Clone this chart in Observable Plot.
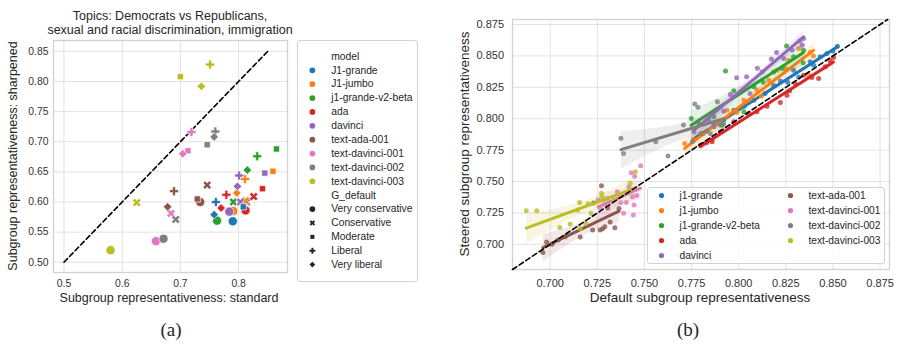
<!DOCTYPE html>
<html><head><meta charset="utf-8">
<script src="https://cdn.jsdelivr.net/npm/d3@7"></script>
<script src="https://cdn.jsdelivr.net/npm/@observablehq/plot@0.6"></script>
<style>
body{margin:0;background:#fff;}
#root{position:relative;width:905px;height:353px;font-family:"Liberation Sans",Arial,sans-serif;color:#262626;overflow:hidden;background:#fff}
.abs{position:absolute;white-space:nowrap}
.c{transform:translate(-50%,-50%)}
.r{transform:translate(-50%,-50%) rotate(-90deg)}
.box{position:absolute;border:1px solid #d2d2d2;border-radius:3px;box-sizing:border-box}
.box svg{display:block}
</style></head>
<body><div id="root"></div>
<script>
// ---------- shared ----------
const palette = ["#1f77b4","#ff7f0e","#2ca02c","#d62728","#9467bd","#8c564b","#e377c2","#7f7f7f","#bcbd22"];

// ---------- panel (a) data ----------
const modelsA = ["J1-grande","J1-jumbo","j1-grande-v2-beta","ada","davinci","text-ada-001","text-davinci-001","text-davinci-002","text-davinci-003"];
const ideologies = ["Very conservative","Conservative","Moderate","Liberal","Very liberal"];
// rows: models, columns: ideologies
const standardA = [
 [0.790, 0.814, 0.808, 0.761, 0.758],
 [0.791, 0.812, 0.859, 0.811, 0.797],
 [0.763, 0.791, 0.865, 0.832, 0.815],
 [0.812, 0.826, 0.841, 0.779, 0.770],
 [0.784, 0.803, 0.845, 0.801, 0.798],
 [0.734, 0.746, 0.729, 0.689, 0.678],
 [0.658, 0.684, 0.713, 0.719, 0.704],
 [0.671, 0.692, 0.746, 0.760, 0.758],
 [0.580, 0.625, 0.700, 0.751, 0.736]];
const sharpenedA = [
 [0.568, 0.600, 0.592, 0.600, 0.579],
 [0.585, 0.602, 0.651, 0.638, 0.615],
 [0.569, 0.600, 0.688, 0.676, 0.653],
 [0.586, 0.609, 0.622, 0.612, 0.590],
 [0.584, 0.600, 0.648, 0.644, 0.626],
 [0.600, 0.628, 0.605, 0.618, 0.592],
 [0.535, 0.581, 0.685, 0.716, 0.680],
 [0.539, 0.571, 0.695, 0.717, 0.708],
 [0.520, 0.599, 0.808, 0.828, 0.792]];
const xTicksA = [0.5, 0.6, 0.7, 0.8];
const yTicksA = [0.50, 0.55, 0.60, 0.65, 0.70, 0.75, 0.80, 0.85];
const diagA = [0.5, 0.85];

// ---------- panel (b) data: [default, steered] ----------
const modelsB = ["j1-grande","j1-jumbo","j1-grande-v2-beta","ada","davinci","text-ada-001","text-davinci-001","text-davinci-002","text-davinci-003"];
const bJ1Grande = [[0.7762,0.7830],[0.7810,0.7880],[0.7868,0.7936],[0.7920,0.7990],[0.7974,0.8068],[0.8030,0.8100],[0.8080,0.8148],[0.8140,0.8200],[0.8185,0.8267],[0.8221,0.8300],[0.8260,0.8290],[0.8291,0.8386],[0.8318,0.8333],[0.8379,0.8453],[0.8397,0.8426],[0.8432,0.8493],[0.8468,0.8519],[0.8500,0.8540],[0.8524,0.8577]];
const bJ1Jumbo = [[0.7713,0.7803],[0.7762,0.7835],[0.7800,0.7880],[0.7859,0.7830],[0.7903,0.7896],[0.7938,0.8068],[0.7990,0.8050],[0.8027,0.8148],[0.8097,0.8227],[0.8120,0.8180],[0.8159,0.8307],[0.8203,0.8386],[0.8250,0.8400],[0.8265,0.8466],[0.8318,0.8559],[0.8370,0.8350],[0.8380,0.8530],[0.8397,0.8500]];
const bJ1V2 = [[0.7748,0.8002],[0.7790,0.7960],[0.7868,0.8015],[0.7912,0.7949],[0.7930,0.8381],[0.7974,0.8222],[0.8027,0.8055],[0.8080,0.8254],[0.8130,0.8290],[0.8185,0.8373],[0.8230,0.8400],[0.8254,0.8580],[0.8291,0.8493],[0.8342,0.8446],[0.8344,0.8546]];
const bAda = [[0.7797,0.7790],[0.7830,0.7810],[0.7859,0.7817],[0.7910,0.7900],[0.7974,0.7976],[0.8053,0.8042],[0.8097,0.8055],[0.8150,0.8100],[0.8221,0.8129],[0.8256,0.8188],[0.8270,0.8222],[0.8300,0.8280],[0.8344,0.8347],[0.8388,0.8328],[0.8424,0.8320],[0.8459,0.8413],[0.8485,0.8461],[0.8503,0.8487]];
const bDavinci = [[0.7762,0.7896],[0.7841,0.7989],[0.7868,0.7949],[0.7920,0.8060],[0.7956,0.8193],[0.7989,0.8326],[0.8042,0.8334],[0.8060,0.8200],[0.8099,0.8401],[0.8124,0.8373],[0.8174,0.8475],[0.8201,0.8528],[0.8238,0.8479],[0.8284,0.8547],[0.8323,0.8618],[0.8337,0.8586],[0.8344,0.8638]];
const bTextAda001 = [[0.6961,0.6936],[0.6981,0.7018],[0.7010,0.7000],[0.7042,0.7034],[0.7080,0.7060],[0.7159,0.7058],[0.7225,0.7114],[0.7230,0.7330],[0.7265,0.7114],[0.7272,0.7466],[0.7278,0.7124],[0.7290,0.7140],[0.7305,0.7290],[0.7318,0.7178],[0.7343,0.7132],[0.7365,0.7285]];
const bTextDav001 = [[0.7254,0.7353],[0.7265,0.7290],[0.7290,0.7320],[0.7303,0.7366],[0.7356,0.7419],[0.7375,0.7331],[0.7389,0.7247],[0.7404,0.7334],[0.7418,0.7459],[0.7430,0.7570],[0.7436,0.7379],[0.7441,0.7233],[0.7445,0.7313],[0.7448,0.7543],[0.7459,0.7390],[0.7480,0.7626]];
const bTextDav002 = [[0.7375,0.7844],[0.7389,0.7724],[0.7560,0.7817],[0.7625,0.7703],[0.7707,0.7950],[0.7754,0.7817],[0.7767,0.8117],[0.7784,0.8091],[0.7800,0.7880],[0.7830,0.7900],[0.7850,0.7880],[0.7887,0.8135],[0.7900,0.7950],[0.7920,0.7960]];
const bTextDav003 = [[0.6873,0.7268],[0.6929,0.7268],[0.7051,0.7135],[0.7106,0.7162],[0.7145,0.7273],[0.7156,0.7334],[0.7159,0.7127],[0.7189,0.7167],[0.7201,0.7323],[0.7216,0.7247],[0.7272,0.7406],[0.7275,0.7379],[0.7282,0.7358],[0.7339,0.7353],[0.7424,0.7486],[0.7452,0.7578]];
const ticksB = [0.700, 0.725, 0.750, 0.775, 0.800, 0.825, 0.850, 0.875];
const diagB = [0.680, 0.879];

// ---------- build ----------
const root = document.getElementById("root");
function addText(txt, cls, left, top, size, extra) {
  const d = document.createElement("div");
  d.className = "abs " + cls;
  d.textContent = txt;
  d.style.left = left + "px"; d.style.top = top + "px"; d.style.fontSize = size + "px";
  if (extra) Object.assign(d.style, extra);
  root.appendChild(d);
}
function place(el, left, top) {
  el.style.position = "absolute"; el.style.left = left + "px"; el.style.top = top + "px";
  root.appendChild(el);
}

// filled "X" marker
const symX = {draw(ctx, size) {
  const r = Math.sqrt(size / 5) / 2, c = Math.SQRT1_2;
  const pts = [[-3,-1],[-1,-1],[-1,-3],[1,-3],[1,-1],[3,-1],[3,1],[1,1],[1,3],[-1,3],[-1,1],[-3,1]];
  pts.forEach(([a,b],i) => { const x = (a - b) * c * r, y = (a + b) * c * r; i ? ctx.lineTo(x, y) : ctx.moveTo(x, y); });
  ctx.closePath();
}};
const symFor = {"Very conservative": "circle", "Conservative": symX, "Moderate": "square", "Liberal": "cross", "Very liberal": "diamond2"};
const rFor = {"Very conservative": 4.6, "Conservative": 3.8, "Moderate": 3.5, "Liberal": 3.8, "Very liberal": 3.9};
const rLegFor = {"Very conservative": 2.9, "Conservative": 2.5, "Moderate": 2.3, "Liberal": 2.5, "Very liberal": 2.6};

const pointsA = [];
modelsA.forEach((m, i) => ideologies.forEach((g, j) => pointsA.push({model: m, ideology: g, standard: standardA[i][j], sharpened: sharpenedA[i][j]})));

const gridColor = "#e2e2e2", frameColor = "#d2d2d2";

const plotA = Plot.plot({
  width: 295, height: 310, marginLeft: 53, marginRight: 8, marginTop: 40, marginBottom: 38,
  x: {domain: [0.482, 0.884], ticks: xTicksA, tickFormat: d3.format(".1f"), tickSize: 0, tickPadding: 7, label: null},
  y: {domain: [0.483, 0.868], ticks: yTicksA, tickFormat: d3.format(".2f"), tickSize: 0, tickPadding: 5, label: null},
  color: {domain: modelsA, range: palette},
  style: {fontFamily: '"Liberation Sans", Arial, sans-serif', fontSize: "10.4px", color: "#333", background: "transparent", overflow: "visible"},
  marks: [
    Plot.ruleX(xTicksA, {stroke: gridColor}),
    Plot.ruleY(yTicksA, {stroke: gridColor}),
    Plot.frame({stroke: frameColor, strokeWidth: 1.3}),
    Plot.line(diagA, {x: d => d, y: d => d, stroke: "black", strokeWidth: 1.6, strokeDasharray: "5,3"}),
    ...ideologies.map(g => Plot.dot(pointsA.filter(d => d.ideology === g), {x: "standard", y: "sharpened", fill: "model", symbol: symFor[g], r: rFor[g], stroke: "white", strokeWidth: 0.7}))
  ]
});
place(plotA, 0, 0);

// legend (a)
const rowsA = ["model", ...modelsA, "G_default", ...ideologies];
const legA = Plot.plot({
  width: 120, height: 240, margin: 0,
  x: {axis: null},
  y: {type: "point", domain: rowsA, range: [8, 231.5], padding: 0, axis: null},
  color: {domain: modelsA, range: palette},
  style: {fontFamily: '"Liberation Sans", Arial, sans-serif', fontSize: "10.4px", color: "#262626", background: "transparent"},
  marks: [
    Plot.dot(modelsA, {y: d => d, fill: d => d, r: 2.9, frameAnchor: "left", dx: 14}),
    ...ideologies.map(g => Plot.dot([g], {y: d => d, fill: "#262626", symbol: symFor[g], r: rLegFor[g], frameAnchor: "left", dx: 14})),
    Plot.text(rowsA, {y: d => d, text: d => d, frameAnchor: "left", dx: 33, textAnchor: "start", fill: "#262626"})
  ]
});
const boxA = document.createElement("div");
boxA.className = "box"; boxA.style.left = "297px"; boxA.style.top = "40px"; boxA.style.width = "121px"; boxA.style.height = "242px";
boxA.appendChild(legA); root.appendChild(boxA);

// titles & labels (a)
addText("Topics: Democrats vs Republicans,", "c", 170, 16, 12.5);
addText("sexual and racial discrimination, immigration", "c", 170, 29.5, 12.5);
addText("Subgroup representativeness: standard", "c", 169, 298, 12.5);
addText("Subgroup representativeness: sharpened", "r", 13, 156, 12.5);

// ---------- panel (b) ----------
const setsB = [bJ1Grande, bJ1Jumbo, bJ1V2, bAda, bDavinci, bTextAda001, bTextDav001, bTextDav002, bTextDav003];
const pointsB = modelsB.map((m, i) => setsB[i].map(([a, b]) => ({model: m, def: a, steer: b})));

const plotB = Plot.plot({
  width: 445, height: 310, marginLeft: 52, marginRight: 16, marginTop: 19, marginBottom: 41,
  x: {domain: [0.680, 0.880], ticks: ticksB, tickFormat: d3.format(".3f"), tickSize: 0, tickPadding: 9.5, label: null},
  y: {domain: [0.680, 0.879], ticks: ticksB, tickFormat: d3.format(".3f"), tickSize: 0, tickPadding: 8.5, label: null},
  color: {domain: modelsB, range: palette},
  style: {fontFamily: '"Liberation Sans", Arial, sans-serif', fontSize: "11px", color: "#333", background: "transparent", overflow: "visible"},
  marks: [
    Plot.ruleX(ticksB, {stroke: gridColor}),
    Plot.ruleY(ticksB, {stroke: gridColor}),
    Plot.frame({stroke: frameColor, strokeWidth: 1.3}),
    ...pointsB.flatMap(pts => [
      Plot.dot(pts, {x: "def", y: "steer", fill: "model", r: 2.5, fillOpacity: 0.8}),
      Plot.linearRegressionY(pts, {x: "def", y: "steer", stroke: "model", fill: "model", strokeWidth: 3, fillOpacity: 0.13})
    ]),
    Plot.line(diagB, {x: d => d, y: d => d, stroke: "black", strokeWidth: 1.6, strokeDasharray: "5,3"})
  ]
});
place(plotB, 460, 0);

// legend (b)
const legRowsB = modelsB.map((m, i) => ({model: m, col: i < 5 ? 0 : 1, row: i % 5}));
const legB = Plot.plot({
  width: 236, height: 75, margin: 0,
  x: {type: "point", domain: [0, 1], range: [13, 142], padding: 0, axis: null},
  y: {type: "point", domain: [0, 1, 2, 3, 4], range: [7, 67], padding: 0, axis: null},
  color: {domain: modelsB, range: palette},
  style: {fontFamily: '"Liberation Sans", Arial, sans-serif', fontSize: "10.2px", color: "#262626", background: "transparent"},
  marks: [
    Plot.dot(legRowsB, {x: "col", y: "row", fill: "model", r: 2.6}),
    Plot.text(legRowsB, {x: "col", y: "row", text: "model", dx: 18, textAnchor: "start", fill: "#262626"})
  ]
});
const boxB = document.createElement("div");
boxB.className = "box"; boxB.style.left = "647px"; boxB.style.top = "187px"; boxB.style.width = "238px"; boxB.style.height = "77px";
boxB.style.background = "rgba(255,255,255,0.8)";
boxB.appendChild(legB); root.appendChild(boxB);

addText("Default subgroup representativeness", "c", 700, 297, 13.5);
addText("Steered subgroup representativeness", "r", 464, 144, 13.5);

// captions
addText("(a)", "c", 171, 330, 19, {fontFamily: '"Liberation Serif", "Times New Roman", serif'});
addText("(b)", "c", 688, 330, 19, {fontFamily: '"Liberation Serif", "Times New Roman", serif'});
</script>
</body></html>
